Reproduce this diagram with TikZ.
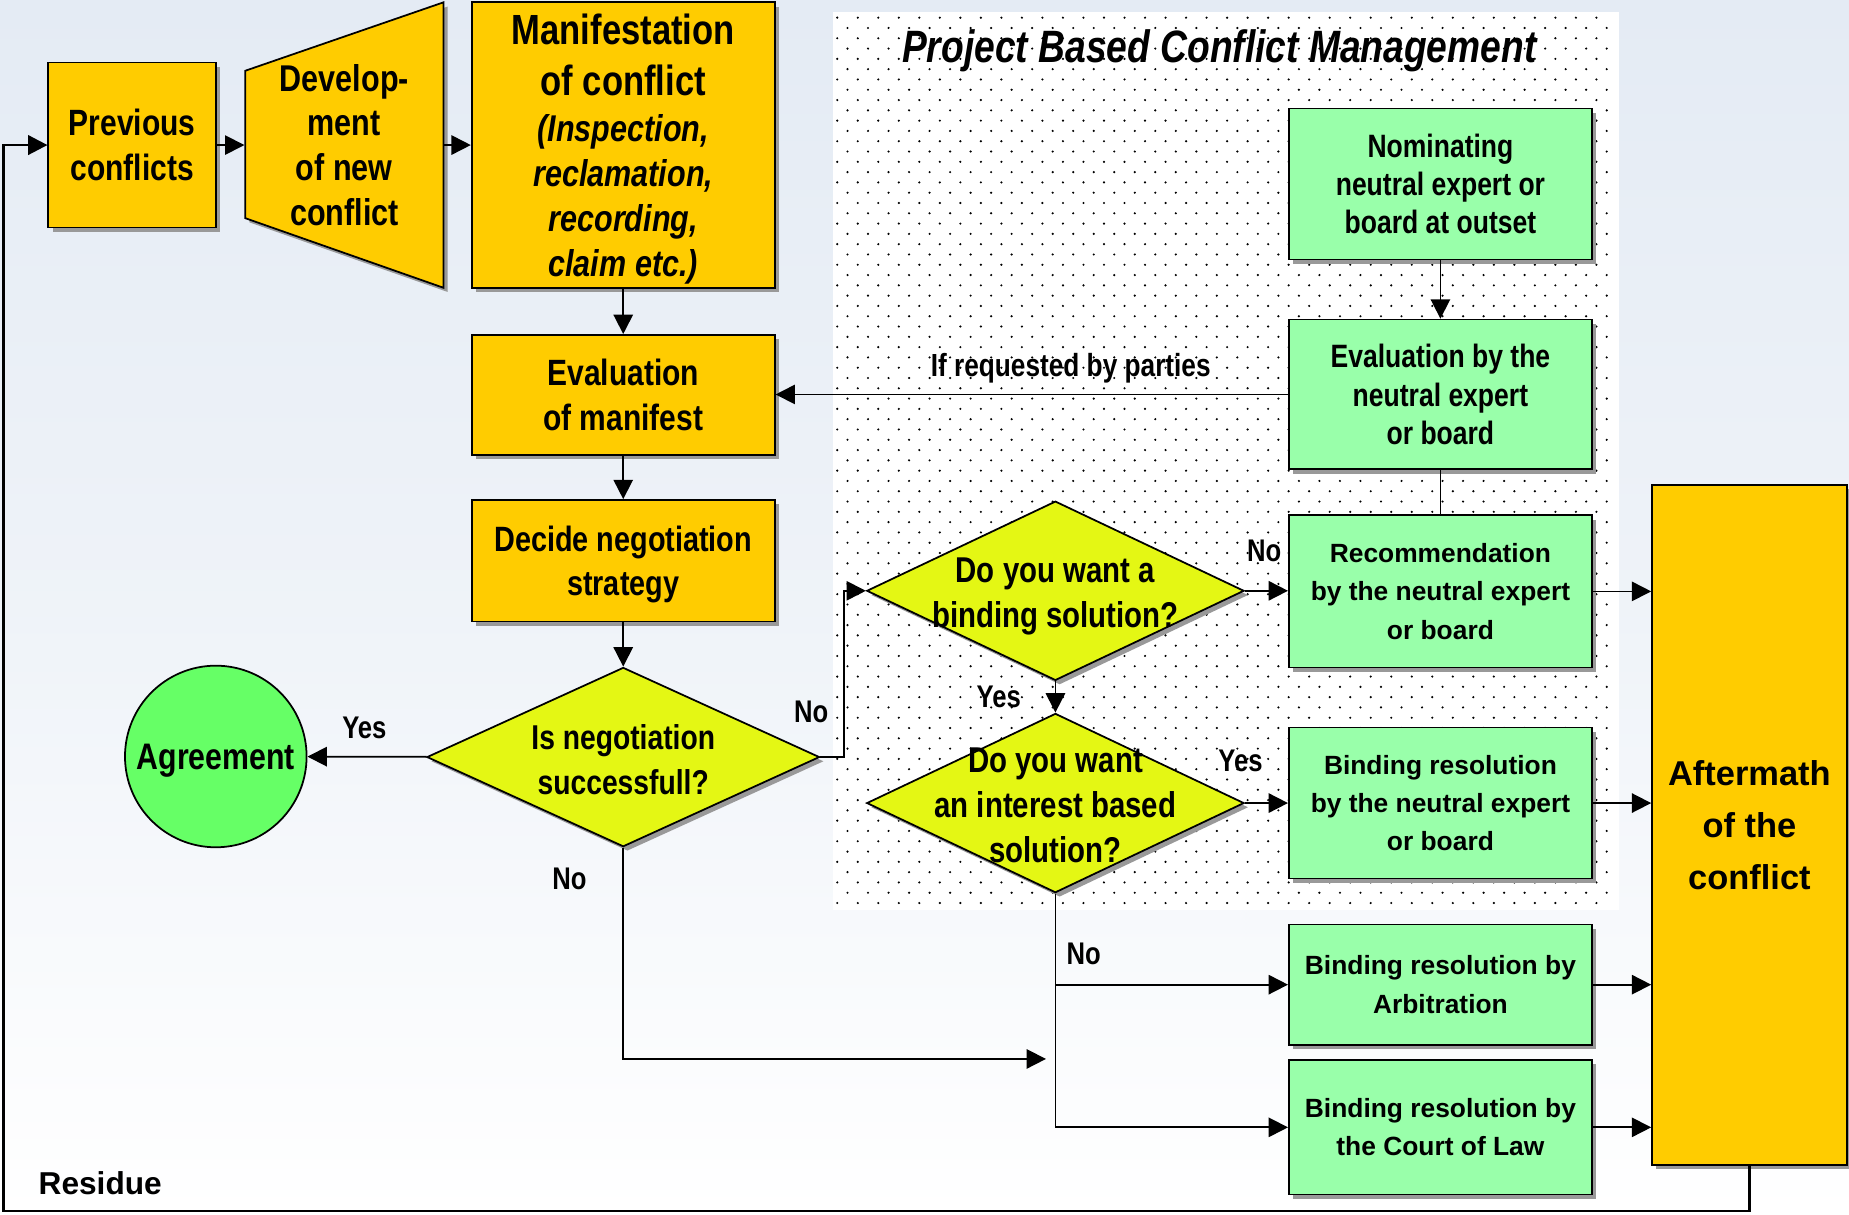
\documentclass[tikz,border=0pt]{standalone}
\usepackage{fontspec}
\setmainfont{Liberation Sans}
\newfontfamily\narrowfont{Liberation Sans}[FakeStretch=0.82]
\usepackage{tikz}
\usetikzlibrary{arrows.meta}
\usetikzlibrary{shapes.geometric}
\usetikzlibrary{shadows}

\definecolor{orng}{RGB}{255,204,0}
\definecolor{lime}{RGB}{228,247,20}
\definecolor{mint}{RGB}{153,255,170}
\definecolor{agree}{RGB}{102,255,102}
\definecolor{sky}{RGB}{228,235,244}

\newlength{\dpx}
\setlength{\dpx}{0.1179mm}
\newcommand{\fs}[2]{\fontsize{#1}{#2}\selectfont}

\tikzset{
  every edge/.style={draw},
  shad/.style={drop shadow={shadow xshift=1.2pt, shadow yshift=-1.2pt, fill=black!40, opacity=1}},
  obox/.style={draw, fill=orng, shad, inner sep=0pt, align=center, minimum width=257*\dpx, font=\narrowfont\bfseries\fs{10.4}{12.75}},
  gbox/.style={draw, fill=mint, shad, inner sep=0pt, align=center, minimum width=257*\dpx, font=\bfseries\fs{7.5}{10.9}},
  nbox/.style={gbox, font=\narrowfont\bfseries\fs{9.2}{10.9}},
  dia/.style={draw, fill=lime, diamond, shad, inner sep=0pt, minimum width=320*\dpx, minimum height=152*\dpx},
  dtxt/.style={align=center, font=\narrowfont\bfseries\fs{10.2}{12.7}},
  lbl/.style={font=\narrowfont\bfseries\fs{8.9}{10}},
  arr/.style={-{Triangle[length=5.5pt, width=5.5pt]}},
}

\begin{document}
\begin{tikzpicture}[x=0.1179mm, y=-0.1179mm, line width=0.5pt]
  \useasboundingbox (0,0) rectangle (1568,1030);
  \shade[top color=sky, bottom color=white, middle color=sky!60] (0,0) rectangle (1568,1030);

  % project based area
  \fill[white] (706,10) rectangle (1373,772);
  \foreach \r in {0,...,86} {
    \pgfmathsetmacro{\yy}{15+8.73*\r}
    \pgfmathsetmacro{\xo}{mod(\r,2)*8.7}
    \foreach \c in {0,...,37}
      \fill[black] (710+\xo+17.4*\c,\yy) circle (0.12mm);
  }
  \node[font=\narrowfont\bfseries\itshape\fs{12.9}{15}] (title) at (1034,43) {Project Based Conflict Management};

  \node[obox, minimum width=142*\dpx, minimum height=140*\dpx] (prev) at (112,123) {Previous\\conflicts};

  \fill[black!40, xshift=1.2pt, yshift=-1.2pt] (208,60) -- (376,2) -- (376,244) -- (208,185) -- cycle;
  \draw[fill=orng] (208,60) -- (376,2) -- (376,244) -- (208,185) -- cycle;
  \node[inner sep=0pt, minimum width=168*\dpx, minimum height=242*\dpx, align=center,
    font=\narrowfont\bfseries\fs{10.6}{12.75}] (dev) at (292,123) {Develop-\\ment\\of new\\conflict};

  \node[obox, minimum height=242*\dpx, text depth=0pt, font=\narrowfont\bfseries\fs{10.6}{12.75}] (manif) at (528.5,123)
    {{\fs{12}{14.8}Manifestation}\\[1.7pt]{\fs{12}{14.8}of conflict}\\[0.5pt]{\itshape(Inspection,}\\{\itshape reclamation,}\\{\itshape recording,}\\{\itshape claim etc.)}};
  \node[obox, minimum height=102*\dpx] (evalm) at (528.5,335) {Evaluation\\of manifest};
  \node[obox, minimum height=103*\dpx, text depth=0pt, font=\narrowfont\bfseries\fs{10}{12.75}] (decide) at (528.5,475.5) {Decide negotiation\\strategy};

  \node[dia, minimum width=333*\dpx] (neg) at (528.5,642) {};
  \node[dtxt, font=\narrowfont\bfseries\fs{9.8}{12.75}] (negtxt) at (528.5,644) {Is negotiation\\successfull?};
  \node[draw, circle, fill=agree, inner sep=0pt, minimum size=154*\dpx, text depth=0pt,
    font=\narrowfont\bfseries\fs{10.5}{12}] (agree) at (183,641.5) {Agreement};

  \node[dia] (bind) at (895,501) {};
  \node[dtxt] (bindtxt) at (895,506) {Do you want a\\binding solution?};
  \node[dia] (inter) at (895,681) {};
  \node[dtxt] (intertxt) at (895,683) {Do you want\\an interest based\\solution?};

  \node[nbox, minimum height=128*\dpx] (nom) at (1221.5,156) {Nominating\\neutral expert or\\board at outset};
  \node[nbox, minimum height=127*\dpx] (evalx) at (1221.5,334.5) {Evaluation by the\\neutral expert\\or board};
  \node[gbox, minimum height=129*\dpx] (rec) at (1221.5,501.5) {Recommendation\\by the neutral expert\\or board};
  \node[gbox, minimum height=128*\dpx] (bneu) at (1221.5,681) {Binding resolution\\by the neutral expert\\or board};
  \node[gbox, minimum height=102*\dpx] (arb) at (1221.5,835) {Binding resolution by\\Arbitration};
  \node[gbox, minimum height=114*\dpx] (court) at (1221.5,956) {Binding resolution by\\the Court of Law};

  \node[draw, fill=orng, shad, inner sep=0pt, align=center, minimum width=165*\dpx, minimum height=577*\dpx,
    text depth=0pt, font=\bfseries\fs{9.8}{14.8}] (aft) at (1483.5,699.5) {Aftermath\\of the\\conflict};

  \coordinate (loopc) at (3,1027);
  \coordinate (nend) at (887,898);

  \draw (prev) edge[arr] (dev);
  \draw (dev) edge[arr] (manif);
  \draw (manif) edge[arr] (evalm);
  \draw (evalm) edge[arr] (decide);
  \draw (decide) edge[arr] (neg);
  \draw (neg) edge[arr] (agree);
  \draw[arr] (neg.east) -- ++(20,0) |- (bind.west);
  \draw[arr] (neg.south) |- (nend);
  \draw[arr] (bind.east) -- (bind.east -| rec.west);
  \draw (bind) edge[arr] (inter);
  \draw[arr] (inter.east) -- (inter.east -| bneu.west);
  \draw[arr] (inter.south) |- (arb.west);
  \draw[arr] (inter.south) |- (court.west);
  \draw (nom) edge[arr] (evalx);
  \draw[arr] (evalx.west) -- (evalx.west -| evalm.east);
  \draw (evalx) -- (rec);
  \draw[arr] (rec.east) -- (rec.east -| aft.west);
  \draw[arr] (bneu.east) -- (bneu.east -| aft.west);
  \draw[arr] (arb.east) -- (arb.east -| aft.west);
  \draw[arr] (court.east) -- (court.east -| aft.west);
  \draw[arr, line width=0.8pt] (aft.south) |- (loopc) |- (prev.west);

  \node[lbl] (l1) at (309,617) {Yes};
  \node[lbl] (l2) at (688,604) {No};
  \node[lbl] (l3) at (483,745) {No};
  \node[lbl] (l4) at (1072,467) {No};
  \node[lbl] (l5) at (847,591) {Yes};
  \node[lbl] (l6) at (1052,645) {Yes};
  \node[lbl] (l7) at (919,809) {No};
  \node[lbl, font=\narrowfont\bfseries\fs{9.1}{10}] (l8) at (908,312) {If requested by parties};
  \node[font=\bfseries\fs{9}{10}] (res) at (85,1003) {Residue};
\end{tikzpicture}
\end{document}
